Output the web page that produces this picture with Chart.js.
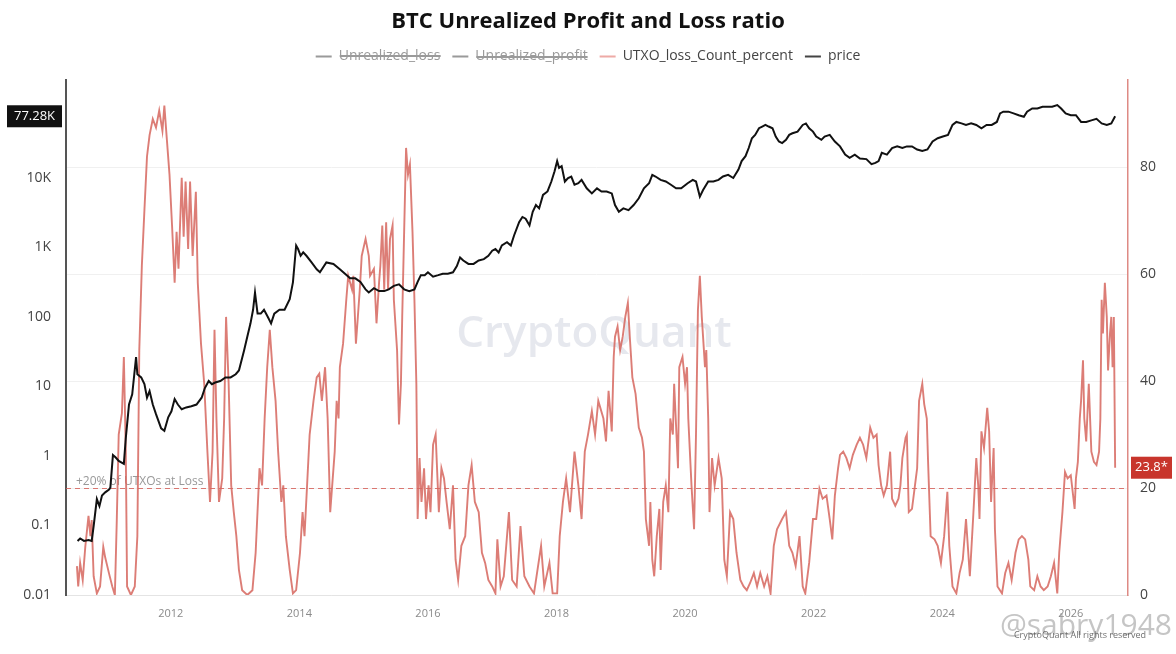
<!DOCTYPE html>
<html>
<head>
<meta charset="utf-8">
<script src="https://cdn.jsdelivr.net/npm/chart.js@4.4.1/dist/chart.umd.min.js"></script>
<style>
  html, body { margin: 0; padding: 0; background: #ffffff; }
  #wrap { width: 1176px; height: 654px; position: relative; }
</style>
</head>
<body>
<div id="wrap"><canvas id="c" width="1176" height="654"></canvas></div>
<script>
// ---------- DATA ----------
const chartTitle = 'BTC Unrealized Profit and Loss ratio';
const seriesNames = ['Unrealized_loss', 'Unrealized_profit', 'UTXO_loss_Count_percent', 'price'];

const utxoYears = [
2010.54,2010.56,2010.59,2010.63,2010.67,2010.72,2010.75,2010.77,2010.80,2010.85,2010.90,2010.95,2010.98,2011.04,2011.09,2011.13,2011.16,2011.19,2011.24,2011.27,2011.30,2011.32,2011.38,2011.44,2011.48,2011.51,2011.55,2011.59,2011.63,2011.67,2011.72,2011.77,2011.82,2011.87,2011.90,2011.94,2011.98,
2012.02,2012.06,2012.09,2012.12,2012.17,2012.20,2012.23,2012.27,2012.30,2012.34,2012.39,2012.42,2012.47,2012.52,2012.57,2012.61,2012.65,2012.68,2012.71,2012.75,2012.80,2012.83,2012.86,2012.90,2012.94,2012.98,
2013.02,2013.06,2013.11,2013.19,2013.27,2013.32,2013.38,2013.42,2013.46,2013.50,2013.54,2013.58,2013.63,2013.67,2013.72,2013.75,2013.79,2013.85,2013.90,2013.95,
2014.01,2014.05,2014.08,2014.12,2014.16,2014.22,2014.27,2014.31,2014.35,2014.40,2014.44,2014.48,2014.55,2014.58,2014.61,2014.63,2014.68,2014.73,2014.76,2014.82,2014.84,2014.88,2014.91,2014.94,2014.97,
2015.03,2015.08,2015.10,2015.16,2015.20,2015.24,2015.26,2015.29,2015.32,2015.35,2015.38,2015.41,2015.45,2015.47,2015.52,2015.55,2015.58,2015.60,2015.63,2015.66,2015.69,2015.72,2015.76,2015.79,2015.82,2015.84,2015.87,2015.90,2015.94,2015.97,
2016.01,2016.04,2016.08,2016.12,2016.17,2016.21,2016.25,2016.29,2016.34,2016.39,2016.43,2016.47,2016.52,2016.58,2016.63,2016.68,2016.73,2016.79,2016.84,2016.89,2016.94,
2017.00,2017.05,2017.08,2017.13,2017.18,2017.26,2017.31,2017.38,2017.44,2017.50,2017.58,2017.65,2017.76,2017.81,2017.89,2017.94,
2018.01,2018.05,2018.10,2018.15,2018.21,2018.28,2018.34,2018.39,2018.44,2018.49,2018.55,2018.60,2018.65,2018.73,2018.77,2018.81,2018.86,2018.89,2018.91,2018.95,2018.99,
2019.03,2019.07,2019.11,2019.14,2019.18,2019.23,2019.28,2019.33,2019.36,2019.39,2019.44,2019.46,2019.49,2019.52,2019.56,2019.60,2019.62,2019.66,2019.70,2019.74,2019.77,2019.81,2019.83,2019.89,2019.91,2019.96,
2020.00,2020.03,2020.05,2020.10,2020.14,2020.17,2020.20,2020.23,2020.26,2020.31,2020.33,2020.36,2020.38,2020.42,2020.46,2020.52,2020.57,2020.61,2020.65,2020.70,2020.75,2020.80,2020.86,2020.91,2020.96,
2021.01,2021.07,2021.12,2021.17,2021.23,2021.28,2021.33,2021.38,2021.43,2021.51,2021.57,2021.62,2021.67,2021.72,2021.78,2021.83,2021.87,2021.93,2021.99,
2022.04,2022.09,2022.14,2022.20,2022.25,2022.29,2022.33,2022.38,2022.41,2022.46,2022.51,2022.56,2022.61,2022.67,2022.72,2022.77,2022.82,2022.88,2022.93,2022.98,
2023.01,2023.05,2023.09,2023.14,2023.19,2023.22,2023.27,2023.32,2023.35,2023.38,2023.43,2023.45,2023.48,2023.53,2023.59,2023.61,2023.64,2023.67,2023.69,2023.72,2023.76,2023.78,2023.82,2023.88,2023.93,2023.98,
2024.03,2024.08,2024.11,2024.16,2024.22,2024.27,2024.32,2024.37,2024.43,2024.48,2024.53,2024.56,2024.58,2024.61,2024.65,2024.70,2024.73,2024.76,2024.80,2024.82,2024.86,2024.93,2024.98,
2025.03,2025.08,2025.14,2025.19,2025.24,2025.29,2025.34,2025.37,2025.43,2025.48,2025.53,2025.58,2025.64,2025.69,2025.74,2025.79,2025.82,2025.87,2025.91,2025.95,
2026.00,2026.06,2026.08,2026.11,2026.14,2026.16,2026.19,2026.21,2026.24,2026.28,2026.32,2026.36,2026.40,2026.44,2026.46,2026.48,2026.50,2026.53,2026.56,2026.58,2026.61,2026.63,2026.65,2026.67,2026.69
];
const utxoValues = [
5.4,1.6,6,2.8,9,14.8,11,14,3.5,0.3,1.6,9,7,4,1.6,0,14,30,34,44.5,27,1.6,0,1.6,11,45.8,61.6,72,82,86,89,87.4,90.6,86.8,91.5,85,78.6,
69,58.4,67.9,61,78,67,77.3,64.7,77.3,63.4,75.4,58.4,47,39.5,26.8,17.4,26.8,49.6,33,17.4,21.8,33,52,39.5,20.5,15.5,
11,4.7,0.9,0,0.9,7.9,23.7,20.5,33,42.6,49.6,42.6,36.3,26.8,17.4,20.5,11,4.7,0.3,0.9,
7.9,15.5,11,20.5,30,36.3,40.7,41.4,36.3,42.6,33,15.5,26.8,36.3,33,42.6,47,55.2,59.7,57.1,59.7,47,52,57.1,63.4,
66.6,63.4,59.7,61,50.8,58.4,61.6,69.1,57.1,69.7,57.1,66.6,69.1,55.2,45.8,31.9,39.5,52,67.9,83.6,78.6,80.5,67.9,55.2,39.5,14.2,25.6,17.4,23.7,14.2,
20.5,15.5,28.1,30,15.5,23.7,21.8,17.4,12.3,20.5,6.6,2.8,9.2,11,20.5,24.3,17.4,15.5,7.9,6,2.8,
1.6,0.3,10.4,1.6,3.5,15.5,2.8,1.6,12.9,3.5,1.6,0.3,9.2,1.6,6,0.3,
0.3,11,17.4,21.8,15.5,26.8,20.5,14.2,26.8,30,34.4,30,36.3,33,28.7,38.2,30.6,44.5,48.3,50.2,45.8,
48.3,52,54.6,48.3,40.7,37.6,31.3,29.4,26.8,14.2,9.2,17.4,6.6,3.5,11,16.1,4.7,17.4,20.5,15.5,33,30,39.5,23.7,42.6,44.5,
39.5,42.6,33,20.5,12.3,30,53.3,59.7,52,42.6,45.8,33,15.5,25.6,20.5,25.6,21.8,6.6,3.5,15.5,14.2,7.9,2.8,1.6,0.9,
2.2,4.1,1.6,4.1,1.6,3.5,0.3,9.2,12.3,14.2,15.5,9.2,7.9,5.4,11,1.6,0.3,6,14.2,
14.2,19.9,18,18.6,14.2,10.4,18.6,23.7,26.2,26.8,25.6,23.7,26.2,28.1,29.4,28.1,25.6,31.3,29.4,30,
24.3,20.5,18.6,20.5,26.8,18,16.7,18,20.5,25.6,29.4,30,15.5,16.1,21.8,23.7,36.3,38.2,39.5,35.7,33,24.9,11,10.4,9.2,6,
11,19.3,9.2,1.6,0.3,4.1,6.6,14.2,3.5,14.2,25.6,20.5,14.2,30.6,27.5,35,30.6,17.4,27.5,12.3,1.6,0.3,4.1,
6,2.8,7.9,10.4,11,10.4,6.6,1.6,0.9,3.5,1.6,0.9,1.6,3.5,6,0.3,7.9,15.5,23,21.8,
22.4,16.1,21.8,24.9,33,36.3,43.9,33,28.7,39.5,26.8,24.9,24.3,26.8,33,55.2,48.9,58.4,52,42,48.9,52,42.6,52,23.8
];

const priceYears = [
2010.55,2010.59,2010.65,2010.72,2010.77,2010.80,2010.85,2010.89,2010.93,2010.98,2011.04,2011.06,2011.10,2011.14,2011.19,2011.27,2011.30,2011.35,2011.40,2011.46,2011.48,2011.54,2011.59,2011.63,2011.67,2011.72,2011.77,2011.85,2011.90,2011.96,
2012.01,2012.06,2012.11,2012.17,2012.24,2012.32,2012.40,2012.48,2012.53,2012.59,2012.64,2012.69,2012.77,2012.85,2012.93,
2013.01,2013.06,2013.14,2013.19,2013.24,2013.28,2013.31,2013.35,2013.40,2013.45,2013.51,2013.56,2013.61,2013.69,2013.77,2013.85,2013.90,2013.95,2013.98,
2014.02,2014.06,2014.11,2014.19,2014.27,2014.32,2014.42,2014.53,2014.63,2014.71,2014.79,2014.87,2014.95,
2015.03,2015.08,2015.16,2015.24,2015.32,2015.39,2015.47,2015.55,2015.63,2015.71,2015.79,2015.84,2015.89,2015.95,
2016.00,2016.08,2016.16,2016.23,2016.31,2016.39,2016.45,2016.50,2016.55,2016.63,2016.71,2016.79,2016.87,2016.94,
2017.00,2017.05,2017.10,2017.15,2017.23,2017.29,2017.34,2017.42,2017.47,2017.52,2017.58,2017.63,2017.68,2017.73,2017.79,2017.86,2017.92,2017.97,
2018.01,2018.04,2018.08,2018.13,2018.18,2018.23,2018.28,2018.34,2018.39,2018.47,2018.55,2018.63,2018.70,2018.78,2018.86,2018.91,2018.97,
2019.04,2019.12,2019.20,2019.28,2019.36,2019.44,2019.49,2019.54,2019.62,2019.70,2019.78,2019.86,2019.94,
2020.04,2020.12,2020.17,2020.23,2020.28,2020.36,2020.44,2020.52,2020.59,2020.67,2020.75,2020.83,2020.88,2020.94,2020.99,
2021.04,2021.09,2021.15,2021.20,2021.25,2021.30,2021.36,2021.41,2021.46,2021.51,2021.57,2021.62,2021.67,2021.75,2021.83,2021.88,2021.93,2021.99,
2022.04,2022.12,2022.17,2022.25,2022.33,2022.41,2022.49,2022.56,2022.64,2022.72,2022.82,2022.90,2022.96,
2023.01,2023.06,2023.14,2023.22,2023.30,2023.38,2023.45,2023.53,2023.61,2023.69,2023.77,2023.85,2023.93,
2024.01,2024.09,2024.16,2024.22,2024.30,2024.37,2024.45,2024.53,2024.61,2024.69,2024.77,2024.85,2024.90,2024.95,
2025.03,2025.11,2025.19,2025.27,2025.32,2025.40,2025.48,2025.56,2025.64,2025.71,2025.79,2025.85,2025.92,
2026.00,2026.08,2026.16,2026.24,2026.32,2026.40,2026.48,2026.56,2026.63,2026.69
];
const priceValues = [
0.06,0.065,0.06,0.062,0.06,0.098,0.24,0.19,0.27,0.30,0.33,0.35,1.03,0.96,0.85,0.77,1.8,5.5,7.7,26.5,15,13.5,10.8,6.9,8.6,5.5,4.0,2.5,2.3,3.6,
4.4,6.6,5.5,4.7,5.0,5.2,5.5,6.9,9.5,12,10.8,11.4,12,13.5,13.5,
15,17,33,52,81,127,225,112,112,127,100,81,112,127,127,180,315,1067,950,
760,850,760,610,485,440,610,580,485,420,360,360,320,
250,225,260,236,236,250,280,295,250,236,250,320,400,400,
440,380,400,420,420,440,540,720,650,580,580,650,680,760,
900,950,850,1070,1190,1070,1490,2330,2750,2600,2080,3260,4080,3650,5700,6400,8900,12500,
17500,14000,14800,8900,10000,10500,8000,8400,9400,7100,6000,7100,6400,6400,6000,4080,3260,
3650,3450,4080,5100,7100,8400,11100,10500,9400,8900,8000,7100,7100,
8400,9400,8900,5400,6700,8900,8900,9400,10500,11100,10000,13200,17500,20600,27000,
37400,41700,52000,55000,58000,55000,52000,39500,33500,31800,35400,41700,44000,46500,58000,61000,52000,46500,
39500,35400,39500,41700,33500,28500,21700,19500,21700,19000,18700,15800,16500,
17500,23000,21700,27000,28500,27000,28500,28500,25700,24400,25700,33500,37400,
39500,41700,58000,64000,61000,58000,61000,58000,52000,58000,58000,64000,85000,90000,
90000,85000,80000,76000,90000,100000,100000,106000,106000,106000,112000,100000,85000,
80000,80000,64000,64000,67500,71000,61000,58000,61000,77280
];

const yearTicks = [2012, 2014, 2016, 2018, 2020, 2022, 2024, 2026];
const priceTicks = [0.01, 0.1, 1, 10, 100, 1000, 10000];
const percentTicks = [0, 20, 40, 60, 80];
const thresholdValue = 20;
const thresholdLabel = '+20% of UTXOs at Loss';
const lastPriceLabel = '77.28K';
const lastPercentLabel = '23.8*';
const watermarkText = 'CryptoQuant';
const authorText = '@sabry1948';
const rightsText = 'CryptoQuant All rights reserved';

// ---------- CHART ----------
const FONT = "'Open Sans', 'Liberation Sans', sans-serif";
const RED = 'rgba(214, 102, 94, 0.85)';

const utxoPoints = utxoYears.map((x, i) => ({ x, y: utxoValues[i] }));
const pricePoints = priceYears.map((x, i) => ({ x, y: priceValues[i] }));

function fmtPrice(v) {
  if (v >= 1000) return (v / 1000) + 'K';
  return String(v);
}

const decorPlugin = {
  id: 'decor',
  afterInit(chart) {
    const lg = chart.legend;
    if (lg) {
      const orig = lg.update.bind(lg);
      lg.update = function (w, h, m) { orig(w, h, m); this.height = 42.6; };
    }
  },
  beforeDatasetsDraw(chart) {
    const { ctx, chartArea } = chart;
    ctx.save();
    ctx.font = "600 44px " + FONT;
    ctx.fillStyle = 'rgba(214, 216, 226, 0.6)';
    ctx.textAlign = 'center';
    ctx.textBaseline = 'middle';
    ctx.fillText(watermarkText, 594, 334);
    // threshold dashed line
    const y2 = chart.scales.y2;
    const ty = Math.round(y2.getPixelForValue(thresholdValue)) + 0.5;
    ctx.strokeStyle = 'rgba(214, 98, 90, 0.85)';
    ctx.lineWidth = 1;
    ctx.setLineDash([5, 4]);
    ctx.beginPath();
    ctx.moveTo(chartArea.left, ty);
    ctx.lineTo(chartArea.right, ty);
    ctx.stroke();
    ctx.setLineDash([]);
    ctx.font = "12px " + FONT;
    ctx.fillStyle = '#999999';
    ctx.textAlign = 'left';
    ctx.textBaseline = 'bottom';
    ctx.fillText(thresholdLabel, chartArea.left + 10, ty - 0.5);
    ctx.restore();
  },
  afterDraw(chart) {
    const { ctx } = chart;
    const ys = chart.scales.y, y2 = chart.scales.y2;
    ctx.save();
    // left price badge
    const py = ys.getPixelForValue(priceValues[priceValues.length - 1]);
    ctx.fillStyle = '#111111';
    ctx.fillRect(7, py - 11, 55, 22);
    ctx.fillStyle = '#ffffff';
    ctx.font = "13px " + FONT;
    ctx.textAlign = 'center';
    ctx.textBaseline = 'middle';
    ctx.fillText(lastPriceLabel, 34.5, py);
    // right percent badge
    const ry = y2.getPixelForValue(utxoValues[utxoValues.length - 1]);
    ctx.fillStyle = '#c8352c';
    ctx.fillRect(1131, ry - 11, 41, 22);
    ctx.fillStyle = '#ffffff';
    ctx.fillText(lastPercentLabel, 1151.5, ry);
    // author watermark
    ctx.font = "30px " + FONT;
    ctx.fillStyle = 'rgba(150, 150, 150, 0.55)';
    ctx.textAlign = 'right';
    ctx.textBaseline = 'middle';
    ctx.fillText(authorText, 1172, 626);
    ctx.font = "9px " + FONT;
    ctx.fillStyle = 'rgba(60, 60, 60, 0.75)';
    ctx.textAlign = 'center';
    ctx.fillText(rightsText, 1080, 635);
    ctx.restore();
  }
};

new Chart(document.getElementById('c'), {
  type: 'line',
  data: {
    datasets: [
      { label: seriesNames[0], data: [], hidden: true, borderColor: '#9a9a9a', borderWidth: 2, yAxisID: 'y2', order: 3, legendColor: '#9a9a9a' },
      { label: seriesNames[1], data: [], hidden: true, borderColor: '#9a9a9a', borderWidth: 2, yAxisID: 'y2', order: 2, legendColor: '#9a9a9a' },
      { label: seriesNames[2], data: utxoPoints, borderColor: RED, borderWidth: 1.9, pointRadius: 0, tension: 0, yAxisID: 'y2', order: 1, legendColor: '#eeaaa6' },
      { label: seriesNames[3], data: pricePoints, borderColor: '#111111', borderWidth: 2, pointRadius: 0, tension: 0, yAxisID: 'y', order: 0, legendColor: '#444444' }
    ]
  },
  options: {
    responsive: false,
    animation: false,
    devicePixelRatio: 1,
    layout: { padding: 0 },
    plugins: {
      tooltip: { enabled: false },
      title: {
        display: true,
        text: chartTitle,
        color: '#111111',
        font: { family: FONT, size: 22, weight: '700' },
        padding: { top: 9, bottom: 2 }
      },
      legend: {
        display: true,
        position: 'top',
        labels: {
          usePointStyle: true,
          pointStyle: 'line',
          pointStyleWidth: 16,
          boxWidth: 16,
          padding: 12,
          color: '#444444',
          font: { family: FONT, size: 14 },
          sort: (a, b) => a.datasetIndex - b.datasetIndex,
          generateLabels(chart) {
            const items = Chart.defaults.plugins.legend.labels.generateLabels(chart);
            items.forEach(it => {
              const ds = chart.data.datasets[it.datasetIndex];
              it.fontColor = it.hidden ? '#9a9a9a' : '#444444';
              it.strokeStyle = ds.legendColor;
              it.fillStyle = ds.legendColor;
              it.lineWidth = 2;
            });
            return items;
          }
        }
      }
    },
    scales: {
      x: {
        type: 'linear',
        min: 2010.37,
        max: 2026.89,
        afterBuildTicks(scale) { scale.ticks = yearTicks.map(v => ({ value: v })); },
        afterFit(scale) { scale.height = 59; },
        ticks: { color: '#8a8a8a', font: { family: FONT, size: 11 }, padding: 12, maxRotation: 0, callback: v => String(v) },
        grid: { display: false, drawTicks: false },
        border: { display: true, color: '#e4e4e4', width: 1 }
      },
      y: {
        type: 'logarithmic',
        position: 'left',
        min: 0.01,
        max: 257000,
        afterBuildTicks(scale) { scale.ticks = priceTicks.map(v => ({ value: v })); },
        afterFit(scale) { scale.width = 66; },
        ticks: { color: '#444444', font: { family: FONT, size: 14 }, padding: 15, callback: v => fmtPrice(v) },
        grid: { display: false, drawTicks: false },
        border: { display: true, color: '#555555', width: 2 }
      },
      y2: {
        type: 'linear',
        position: 'right',
        min: 0,
        max: 96.3,
        afterBuildTicks(scale) { scale.ticks = percentTicks.map(v => ({ value: v })); },
        afterFit(scale) { scale.width = 48; },
        ticks: { color: '#444444', font: { family: FONT, size: 14 }, padding: 12 },
        grid: { display: true, drawTicks: false, color: '#f0f0f0', lineWidth: 1 },
        border: { display: true, color: '#de8a84', width: 1.5 }
      }
    }
  },
  plugins: [decorPlugin]
});
</script>
</body>
</html>
